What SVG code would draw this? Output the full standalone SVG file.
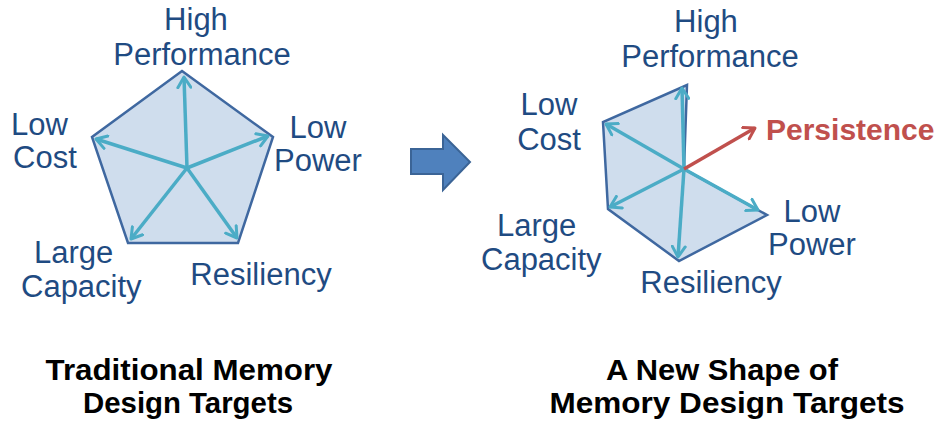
<svg xmlns="http://www.w3.org/2000/svg" width="949" height="421" viewBox="0 0 949 421">
<style>
.lbl{font-family:"Liberation Sans",Arial,sans-serif;font-size:31px;fill:#1f4b82}
.ttl{font-family:"Liberation Sans",Arial,sans-serif;font-size:30px;font-weight:bold;fill:#000;text-anchor:middle}
.shape{fill:#cfdded;stroke:#3f68a0;stroke-width:2.5;stroke-linejoin:miter}
.ax{stroke:#4bacc6;stroke-width:3.5;fill:none;marker-end:url(#hb)}
.red{stroke:#c0504d;stroke-width:3.5;fill:none;marker-end:url(#hr)}
</style>
<defs>
<marker id="hb" viewBox="0 0 14 16" markerWidth="14" markerHeight="16" refX="12" refY="8" orient="auto" markerUnits="userSpaceOnUse">
<path d="M1.5,1.5 L12,8 L1.5,14.5" fill="none" stroke="#4bacc6" stroke-width="3" stroke-linecap="round" stroke-linejoin="round"/>
</marker>
<marker id="hr" viewBox="0 0 14 16" markerWidth="14" markerHeight="16" refX="12" refY="8" orient="auto" markerUnits="userSpaceOnUse">
<path d="M1.5,1.5 L12,8 L1.5,14.5" fill="none" stroke="#c0504d" stroke-width="3" stroke-linecap="round" stroke-linejoin="round"/>
</marker>
</defs>
<rect width="949" height="421" fill="#fff"/>

<g id="left-shape">
<polygon class="shape" points="182,71 273,137 238,243 128,243 92,137"/>
</g>
<g id="right-shape">
<polygon class="shape" points="687,85 684,169 767,215 679,261 608,209 603,122"/>
</g>

<g id="connectors">
<line class="ax" x1="187" y1="168" x2="184" y2="77"/>
<line class="ax" x1="187" y1="168" x2="96" y2="139"/>
<line class="ax" x1="187" y1="168" x2="268" y2="136"/>
<line class="ax" x1="187" y1="168" x2="131" y2="239"/>
<line class="ax" x1="187" y1="168" x2="237" y2="238"/>
<line class="ax" x1="684" y1="169" x2="682" y2="88"/>
<line class="ax" x1="684" y1="169" x2="606" y2="124"/>
<line class="ax" x1="684" y1="169" x2="610" y2="207"/>
<line class="ax" x1="684" y1="169" x2="678" y2="257"/>
<line class="ax" x1="684" y1="169" x2="758" y2="210"/>
<line class="red" x1="684" y1="169" x2="755" y2="128"/>
</g>

<g id="block-arrow">
<polygon points="411,149 443,149 443,135 470,162 443,190 443,174 411,174" fill="#4f81bd" stroke="#3b6496" stroke-width="2"/>
</g>

<g id="l-high-performance">
<text class="lbl" x="196" y="30" text-anchor="middle">High</text>
<text class="lbl" x="202" y="65" text-anchor="middle">Performance</text>
</g>
<g id="l-low-cost">
<text class="lbl" x="11" y="135">Low</text>
<text class="lbl" x="13" y="168">Cost</text>
</g>
<g id="l-low-power">
<text class="lbl" x="318" y="138" text-anchor="middle">Low</text>
<text class="lbl" x="318" y="171" text-anchor="middle">Power</text>
</g>
<g id="l-large-capacity">
<text class="lbl" x="34" y="263">Large</text>
<text class="lbl" x="21" y="297">Capacity</text>
</g>
<g id="l-resiliency">
<text class="lbl" x="261" y="285" text-anchor="middle">Resiliency</text>
</g>

<g id="r-high-performance">
<text class="lbl" x="706" y="32" text-anchor="middle">High</text>
<text class="lbl" x="710" y="67" text-anchor="middle">Performance</text>
</g>
<g id="r-low-cost">
<text class="lbl" x="549" y="115" text-anchor="middle">Low</text>
<text class="lbl" x="549" y="150" text-anchor="middle">Cost</text>
</g>
<g id="r-persistence">
<text x="766" y="140" style="font-family:'Liberation Sans',Arial,sans-serif;font-size:30px;font-weight:bold;fill:#c0504d">Persistence</text>
</g>
<g id="r-low-power">
<text class="lbl" x="812" y="222" text-anchor="middle">Low</text>
<text class="lbl" x="812" y="255" text-anchor="middle">Power</text>
</g>
<g id="r-large-capacity">
<text class="lbl" x="497" y="236">Large</text>
<text class="lbl" x="481" y="270">Capacity</text>
</g>
<g id="r-resiliency">
<text class="lbl" x="711" y="293" text-anchor="middle">Resiliency</text>
</g>

<g id="title-left">
<text class="ttl" x="189" y="380" textLength="287" lengthAdjust="spacingAndGlyphs">Traditional Memory</text>
<text class="ttl" x="188" y="413" textLength="210" lengthAdjust="spacingAndGlyphs">Design Targets</text>
</g>
<g id="title-right">
<text class="ttl" x="722" y="380" textLength="232" lengthAdjust="spacingAndGlyphs">A New Shape of</text>
<text class="ttl" x="727" y="413" textLength="355" lengthAdjust="spacingAndGlyphs">Memory Design Targets</text>
</g>
</svg>
